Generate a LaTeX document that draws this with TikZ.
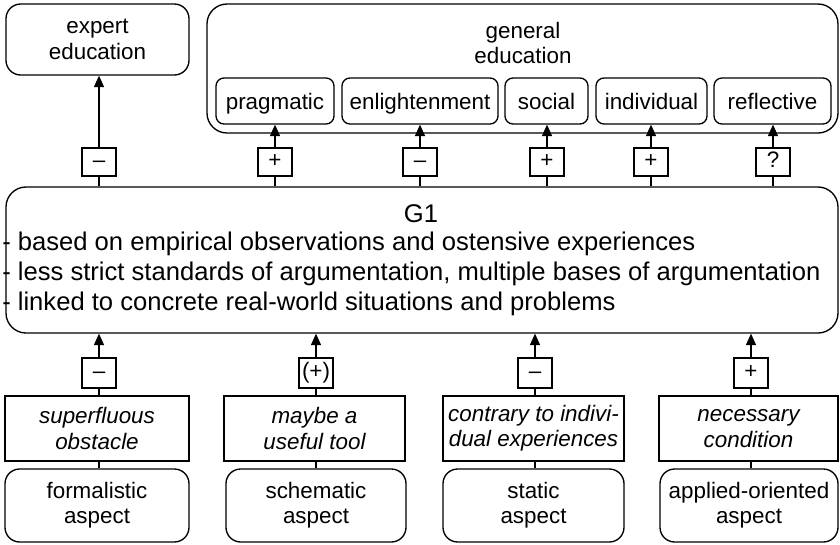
\documentclass[tikz,border=0pt]{standalone}
\usepackage{fontspec}
\setmainfont{Liberation Sans}
\usetikzlibrary{arrows.meta}
\tikzset{
  box/.style={draw, line width=1pt, inner sep=0pt, align=center, font=\fontsize{16.8}{19}\selectfont},
  rbox/.style={box, rounded corners=#1},
  rbox/.default=10pt,
  oneline/.style={text height=12.2pt, text depth=3.5pt},
  subline/.style={text height=14.5pt, text depth=2pt},
  ibox/.style={box, font=\fontsize{16.8}{19}\selectfont\itshape},
  sbox/.style={box, oneline, minimum width=25.5pt, minimum height=21pt},
  conn/.style={line width=0.8pt},
  arr/.style={conn, -{Triangle[length=8.5pt,width=7.5pt]}},
  gtext/.style={inner sep=0pt, font=\fontsize{19.2}{23}\selectfont}
}
\begin{document}
\begin{tikzpicture}[x=0.75pt,y=-0.75pt]
\useasboundingbox (0,0) rectangle (840,544);
% top targets
\node[rbox=11pt, minimum width=137.25pt, minimum height=53.25pt] (expert) at (97.5,39.5) {expert\\education};
\node[rbox=15pt, minimum width=473.25pt, minimum height=96.75pt] (gen) at (522.5,68.5) {};
\node[inner sep=0pt, align=center, font=\fontsize{16.8}{19}\selectfont] (gentext) at (523,43) {general\\education};
\node[rbox=6pt, subline, minimum width=88.5pt, minimum height=34.5pt] (prag) at (275,101) {pragmatic};
\node[rbox=6pt, subline, minimum width=117pt, minimum height=34.5pt] (enl) at (420,101) {enlightenment};
\node[rbox=6pt, subline, minimum width=62.25pt, minimum height=34.5pt] (soc) at (546.5,101) {social};
\node[rbox=6pt, subline, minimum width=83.25pt, minimum height=34.5pt] (ind) at (651.5,101) {individual};
\node[rbox=6pt, subline, minimum width=87.75pt, minimum height=34.5pt] (ref) at (772.5,101) {reflective};
% G1
\node[rbox=15pt, minimum width=624pt, minimum height=109.5pt] (G1) at (422,260) {};
\node[gtext, anchor=base] (g1title) at (421,222) {G1};
\node[gtext, anchor=base west] (g1a) at (2,250) {- based on empirical observations and ostensive experiences};
\node[gtext, anchor=base west] (g1b) at (2,280) {- less strict standards of argumentation, multiple bases of argumentation};
\node[gtext, anchor=base west] (g1c) at (2,310) {- linked to concrete real-world situations and problems};
% top signs
\node[sbox] (t1) at (99,162) {–};
\node[sbox] (t2) at (275,162) {+};
\node[sbox] (t3) at (420,162) {–};
\node[sbox] (t4) at (547,162) {+};
\node[sbox] (t5) at (651,162) {+};
\node[sbox] (t6) at (773,162) {?};
% bottom signs
\node[sbox, minimum height=22.5pt] (b1) at (99,373) {–};
\node[sbox, minimum height=22.5pt] (b2) at (316,373) {(+)};
\node[sbox, minimum height=22.5pt] (b3) at (535,373) {–};
\node[sbox, minimum height=22.5pt] (b4) at (751,373) {+};
% italic boxes
\node[ibox, minimum width=138pt, minimum height=48.75pt] (i1) at (97,428.5) {superfluous\\obstacle};
\node[ibox, minimum width=135.75pt, minimum height=48.75pt] (i2) at (314.5,428.5) {maybe a\\useful tool};
\node[ibox, minimum width=135.75pt, minimum height=48.75pt] (i3) at (533.5,428.5) {contrary to indivi-\\dual experiences};
\node[ibox, minimum width=134.25pt, minimum height=48.75pt] (i4) at (748.5,428.5) {necessary\\condition};
% aspects
\node[rbox=11pt, minimum width=138pt, minimum height=54.75pt] (a1) at (97,505.5) {formalistic\\aspect};
\node[rbox=11pt, minimum width=135pt, minimum height=54.75pt] (a2) at (316,505.5) {schematic\\aspect};
\node[rbox=11pt, minimum width=135.75pt, minimum height=54.75pt] (a3) at (533.5,505.5) {static\\aspect};
\node[rbox=11pt, minimum width=133.5pt, minimum height=54.75pt] (a4) at (749,505.5) {applied-oriented\\aspect};
% top connectors
\draw[conn] (t1.south |- G1.north) -- (t1.south);
\draw[arr] (t1.north) -- (t1.north |- expert.south);
\draw[conn] (t2.south |- G1.north) -- (t2.south);
\draw[arr] (t2.north) -- (t2.north |- prag.south);
\draw[conn] (t3.south |- G1.north) -- (t3.south);
\draw[arr] (t3.north) -- (t3.north |- enl.south);
\draw[conn] (t4.south |- G1.north) -- (t4.south);
\draw[arr] (t4.north) -- (t4.north |- soc.south);
\draw[conn] (t5.south |- G1.north) -- (t5.south);
\draw[arr] (t5.north) -- (t5.north |- ind.south);
\draw[conn] (t6.south |- G1.north) -- (t6.south);
\draw[arr] (t6.north) -- (t6.north |- ref.south);
% bottom connectors
\draw[conn] (b1.south |- a1.north) -- (b1.south |- i1.south);
\draw[conn] (b1.south |- i1.north) -- (b1.south);
\draw[arr] (b1.north) -- (b1.north |- G1.south);
\draw[conn] (b2.south |- a2.north) -- (b2.south |- i2.south);
\draw[conn] (b2.south |- i2.north) -- (b2.south);
\draw[arr] (b2.north) -- (b2.north |- G1.south);
\draw[conn] (b3.south |- a3.north) -- (b3.south |- i3.south);
\draw[conn] (b3.south |- i3.north) -- (b3.south);
\draw[arr] (b3.north) -- (b3.north |- G1.south);
\draw[conn] (b4.south |- a4.north) -- (b4.south |- i4.south);
\draw[conn] (b4.south |- i4.north) -- (b4.south);
\draw[arr] (b4.north) -- (b4.north |- G1.south);
\end{tikzpicture}
\end{document}
